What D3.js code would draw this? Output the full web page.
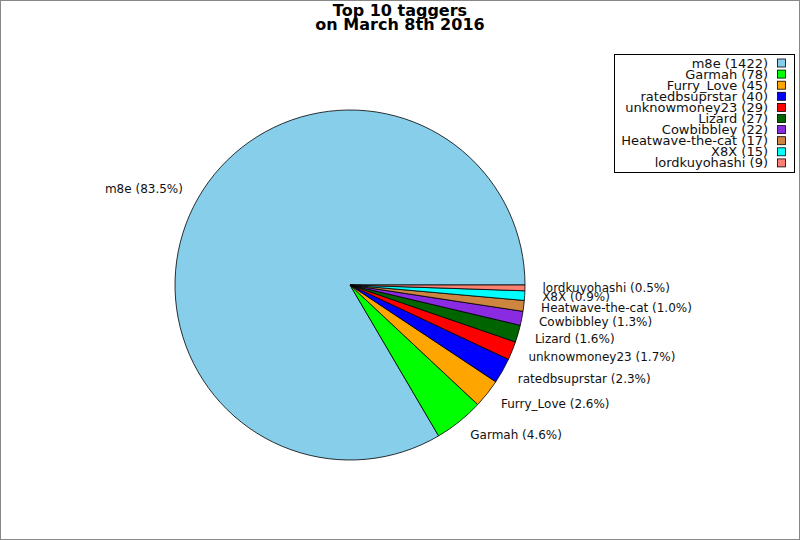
<!DOCTYPE html>
<meta charset="utf-8">
<script src="https://d3js.org/d3.v7.min.js"></script>
<style>
  body { margin: 0; }
  text { font-family: "DejaVu Sans", sans-serif; }
</style>
<div id="chart"></div>
<script>
// data
var names = ["m8e", "Garmah", "Furry_Love", "ratedbsuprstar", "unknowmoney23",
             "Lizard", "Cowbibbley", "Heatwave-the-cat", "X8X", "lordkuyohashi"];
var counts = [1422, 78, 45, 40, 29, 27, 22, 17, 15, 9];
var colors = ["#87CEEB", "#00FF00", "#FFA500", "#0000FF", "#FF0000",
              "#006400", "#8A2BE2", "#CD853F", "#00FFFF", "#FA8072"];
var titleLines = ["Top 10 taggers", "on March 8th 2016"];

var width = 800, height = 540;
var cx = 350, cy = 285, r = 175;

var svg = d3.select("#chart").append("svg")
  .attr("width", width)
  .attr("height", height);

svg.append("rect")
  .attr("x", 0.5).attr("y", 0.5)
  .attr("width", width - 1).attr("height", height - 1)
  .attr("fill", "white")
  .attr("stroke", "#888");

var total = d3.sum(counts);
var fmt = d3.format(".1f");

var data = names.map(function(n, i) { return {name: n, value: counts[i], color: colors[i]}; });

// matplotlib style: start at 3 o'clock, go counterclockwise
var pie = d3.pie()
  .sort(null)
  .value(function(d) { return d.value; })
  .startAngle(Math.PI / 2)
  .endAngle(Math.PI / 2 - 2 * Math.PI);

var arc = d3.arc().innerRadius(0).outerRadius(r);

var g = svg.append("g").attr("transform", "translate(" + cx + "," + cy + ")");

var arcs = pie(data);

g.selectAll("path")
  .data(arcs)
  .enter().append("path")
  .attr("d", arc)
  .attr("fill", function(d) { return d.data.color; })
  .attr("stroke", "black")
  .attr("stroke-width", 0.8)
  .attr("stroke-linejoin", "round");

function mid(d) { return (d.startAngle + d.endAngle) / 2; }

g.selectAll("text.lbl")
  .data(arcs)
  .enter().append("text")
  .attr("class", "lbl")
  .attr("x", function(d) { return 1.1 * r * Math.sin(mid(d)); })
  .attr("y", function(d) { return -1.1 * r * Math.cos(mid(d)); })
  .attr("text-anchor", function(d) { return Math.sin(mid(d)) > 0 ? "start" : "end"; })
  .attr("dominant-baseline", "central")
  .attr("font-size", 12)
  .attr("fill", "#111")
  .text(function(d) { return d.data.name + " (" + fmt(d.data.value / total * 100) + "%)"; });

// title
svg.selectAll("text.title")
  .data(titleLines)
  .enter().append("text")
  .attr("class", "title")
  .attr("x", 400)
  .attr("y", function(d, i) { return 16 + i * 14; })
  .attr("text-anchor", "middle")
  .attr("font-size", 16)
  .attr("font-weight", "bold")
  .text(function(d) { return d; });

// legend
var legend = svg.append("g");
legend.append("rect")
  .attr("x", 614.5).attr("y", 54.5)
  .attr("width", 180).attr("height", 118)
  .attr("fill", "white")
  .attr("stroke", "black");

var rows = legend.selectAll("g.row")
  .data(data)
  .enter().append("g")
  .attr("class", "row")
  .attr("transform", function(d, i) { return "translate(0," + (63 + i * 11.1) + ")"; });

rows.append("rect")
  .attr("x", 777.5).attr("y", -4)
  .attr("width", 8).attr("height", 8)
  .attr("fill", function(d) { return d.color; })
  .attr("stroke", "black")
  .attr("stroke-width", 0.8);

rows.append("text")
  .attr("x", 768)
  .attr("y", 0)
  .attr("text-anchor", "end")
  .attr("dominant-baseline", "central")
  .attr("font-size", 13)
  .attr("fill", "#111")
  .text(function(d) { return d.name + " (" + d.value + ")"; });
</script>
